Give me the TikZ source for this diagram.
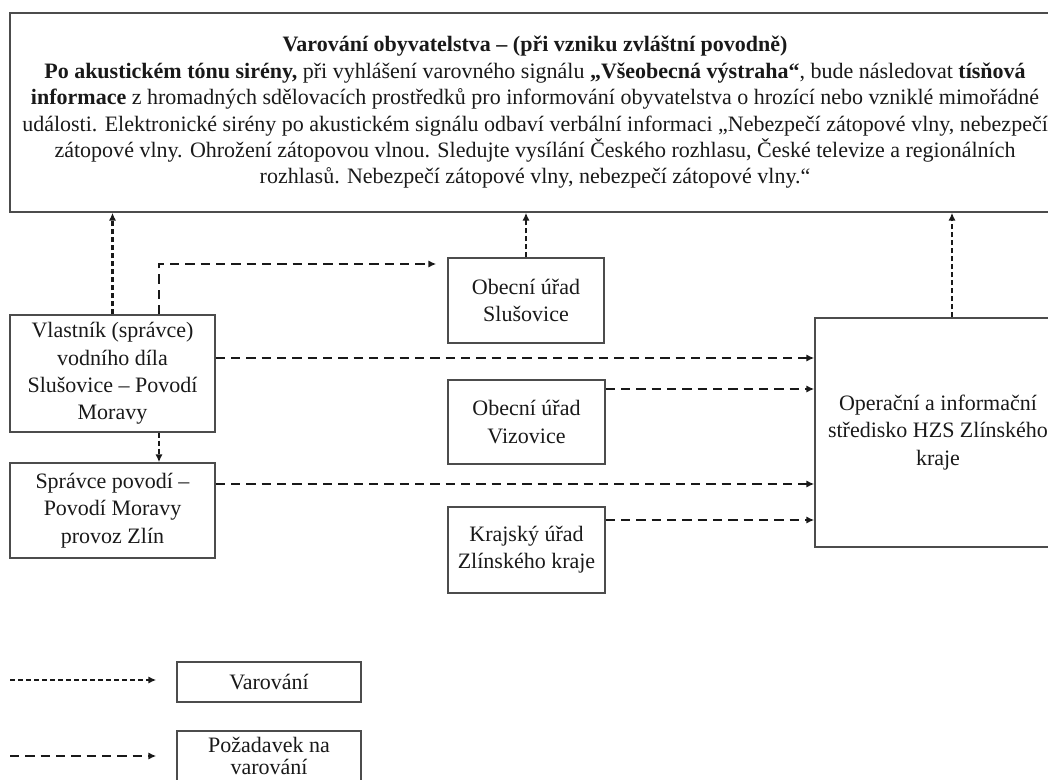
\documentclass[tikz,border=0pt]{standalone}
\usepackage{fontspec}
\setmainfont{Liberation Serif}
\usetikzlibrary{arrows.meta,calc}
\begin{document}
\begin{tikzpicture}[x=0.75pt,y=-0.75pt,
  every node/.style={font=\fontsize{16.5}{20.5}\selectfont, text=black!90},
  box/.style={draw=black!70, line width=1.1pt, align=center, inner sep=0pt},
  size/.style 2 args={minimum width=#1*0.75pt, minimum height=#2*0.75pt},
  warn/.style={draw=black!90, line width=1.9pt, dash pattern=on 4pt off 2pt,
               -{Latex[length=6pt,width=5.5pt]}},
  req/.style={draw=black!90, line width=1.9pt, dash pattern=on 7pt off 4.5pt,
              -{Latex[length=6pt,width=5.5pt]}},
]
\useasboundingbox (0,0) rectangle (1048,780);
\clip (0,0) rectangle (1048,780);

% header box with the public warning text
\node[box, size={1050}{199}, font=\fontsize{16.5}{19.8}\selectfont] (top) at (535,112.5)
 {\textbf{Varování obyvatelstva – (při vzniku zvláštní povodně)}\\
  \textbf{Po akustickém tónu sirény,} při vyhlášení varovného signálu \textbf{„Všeobecná výstraha“}, bude následovat \textbf{tísňová}\\
  \textbf{informace} z hromadných sdělovacích prostředků pro informování obyvatelstva o hrozící nebo vzniklé mimořádné\\
  události. Elektronické sirény po akustickém signálu odbaví verbální informaci „Nebezpečí zátopové vlny, nebezpečí\\
  zátopové vlny. Ohrožení zátopovou vlnou. Sledujte vysílání Českého rozhlasu, České televize a regionálních\\
  rozhlasů. Nebezpečí zátopové vlny, nebezpečí zátopové vlny.“};

% participants
\node[box, size={205}{117}] (vl) at (112.5,373.5)
 {Vlastník (správce)\\vodního díla\\Slušovice – Povodí\\Moravy};
\node[box, size={205}{95}] (spr) at (112.5,510.5)
 {Správce povodí –\\Povodí Moravy\\provoz Zlín};
\node[box, size={156}{85}] (slus) at (526,300.5) {Obecní úřad\\Slušovice};
\node[box, size={157}{84}] (viz) at (526.5,422) {Obecní úřad\\Vizovice};
\node[box, size={157}{86}] (kraj) at (526.5,550) {Krajský úřad\\Zlínského kraje};
\node[box, size={246}{229}] (op) at (938,432.5)
 {Operační a informační\\středisko HZS Zlínského\\kraje};

% warnings towards the public
\draw[warn] (vl.north) -- (vl.north |- top.south);
\draw[warn] (slus.north) -- (slus.north |- top.south);
\coordinate (opup) at ($(op.north)+(14,0)$);
\draw[warn] (opup) -- (opup |- top.south);
\coordinate (vldown) at ($(vl.south)+(46.5,0)$);
\draw[warn] (vldown) -- (vldown |- spr.north);

% requests for warning
\coordinate (vlup) at ($(vl.north)+(46.5,0)$);
\coordinate (slusin) at ($(slus.west)+(-11,-36.5)$);
\draw[req] (vlup) |- (slusin);
\coordinate (vlout) at ($(vl.east)+(0,-15.5)$);
\draw[req] (vlout) -- (vlout -| op.west);
\coordinate (vizout) at ($(viz.east)+(0,-33)$);
\draw[req] (vizout) -- (vizout -| op.west);
\coordinate (sprout) at ($(spr.east)+(0,-26.5)$);
\draw[req] (sprout) -- (sprout -| op.west);
\coordinate (krajout) at ($(kraj.east)+(0,-30)$);
\draw[req] (krajout) -- (krajout -| op.west);

% legend
\node[box, size={184}{40}] (legw) at (269,682) {Varování};
\node[box, size={184}{50}, font=\fontsize{16.5}{16.5}\selectfont] (legr) at (269,756)
 {Požadavek na\\varování};
\coordinate (lw) at (10,680);
\draw[warn, shorten >=15pt] (lw) -- (lw -| legw.west);
\coordinate (lr) at (10,756);
\draw[req, shorten >=15pt] (lr) -- (lr -| legr.west);
\end{tikzpicture}
\end{document}
